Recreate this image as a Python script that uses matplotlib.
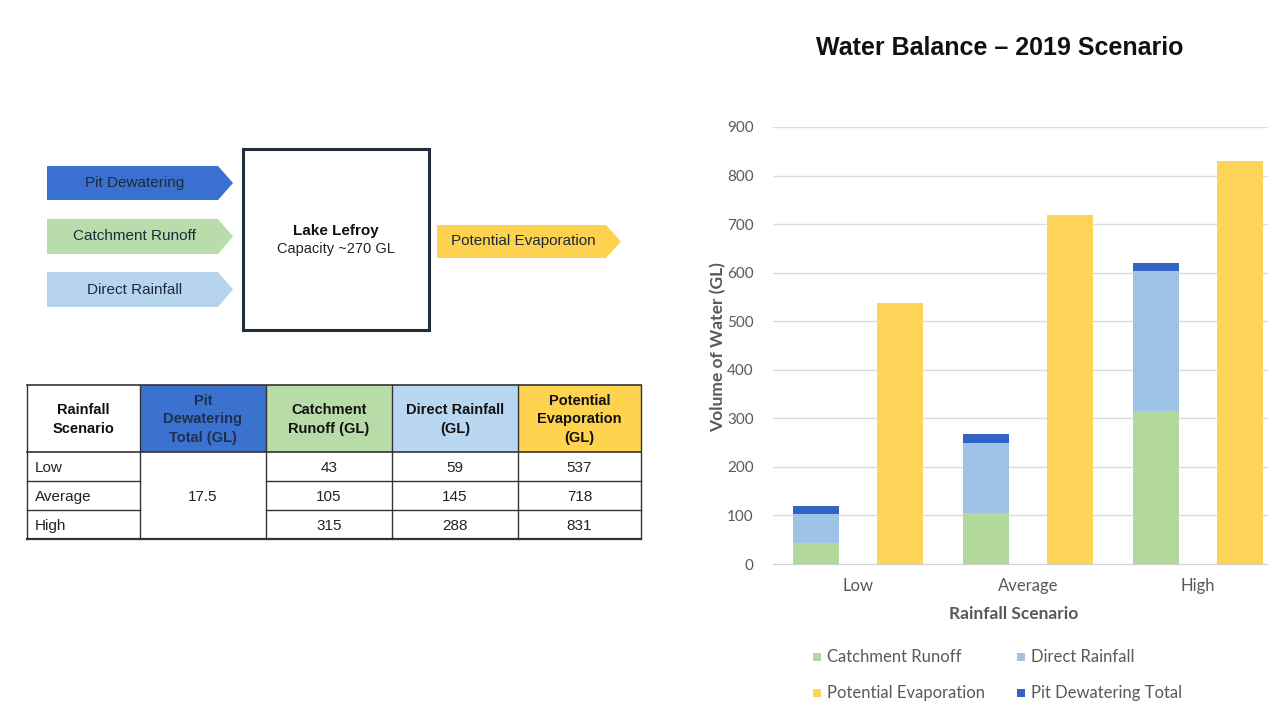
import matplotlib
matplotlib.use("Agg")
import matplotlib.pyplot as plt
from matplotlib.patches import Polygon, Rectangle
import numpy as np

# ---------------- data ----------------
scenarios = ["Low", "Average", "High"]
catchment_runoff = [43, 105, 315]
direct_rainfall = [59, 145, 288]
pit_dewatering = [17.5, 17.5, 17.5]
potential_evap = [537, 718, 831]
pit_total_label = "17.5"
series_names = ["Catchment Runoff", "Direct Rainfall", "Potential Evaporation", "Pit Dewatering Total"]
y_ticks = [0, 100, 200, 300, 400, 500, 600, 700, 800, 900]
table_headers = ["Rainfall\nScenario", "Pit\nDewatering\nTotal (GL)", "Catchment\nRunoff (GL)",
                 "Direct Rainfall\n(GL)", "Potential\nEvaporation\n(GL)"]

# ---------------- style ----------------
C_GREEN = "#b3d89c"
C_LBLUE = "#9dc3e6"
C_PIT = "#3263c7"
C_YEL = "#fdd458"
GRAY = "#595959"

W, H = 1268, 701
fig = plt.figure(figsize=(W / 100, H / 100), dpi=100)
fig.patch.set_facecolor("white")

# overlay in pixel coordinates for diagram and table
ov = fig.add_axes([0, 0, 1, 1])
ov.set_xlim(0, W)
ov.set_ylim(H, 0)
ov.axis("off")

AF = "Liberation Sans"

def arrow(x0, y0, x1, y1, tip, color, text):
    ym = (y0 + y1) / 2
    pts = [(x0, y0), (x1 - tip, y0), (x1, ym), (x1 - tip, y1), (x0, y1)]
    ov.add_patch(Polygon(pts, closed=True, facecolor=color, edgecolor="none"))
    ov.text((x0 + x1 - tip) / 2 + 2, ym, text, ha="center", va="center",
            fontsize=11, family=AF, color="#1e2a3a")

arrow(47, 166, 233, 200, 15, "#3a70cf", "Pit Dewatering")
arrow(47, 219, 233, 254, 15, "#b9dcab", "Catchment Runoff")
arrow(47, 272, 233, 307, 15, "#b7d4ef", "Direct Rainfall")
arrow(437, 225, 621, 258, 15, "#fdd24e", "Potential Evaporation")

ov.add_patch(Rectangle((243, 149), 186, 181, facecolor="white", edgecolor="#1f2d3d", linewidth=2.2))
ov.text(336, 231, "Lake Lefroy", ha="center", va="center", fontsize=11, family=AF,
        fontweight="bold", color="#111111")
ov.text(336, 249, "Capacity ~270 GL", ha="center", va="center", fontsize=10.5, family=AF,
        color="#222222")

# ---------------- table ----------------
col_x = [27, 140, 266, 392, 518, 641]
row_y = [385, 452, 481, 510, 539]
head_colors = ["white", "#3b72cf", "#b8dca8", "#bad7f1", "#fdd34f"]
head_txt = ["#111111", "#1f2f4f", "#111111", "#111111", "#111111"]
for j in range(5):
    ov.add_patch(Rectangle((col_x[j], row_y[0]), col_x[j + 1] - col_x[j], row_y[1] - row_y[0],
                           facecolor=head_colors[j], edgecolor="none"))
    ov.text((col_x[j] + col_x[j + 1]) / 2, (row_y[0] + row_y[1]) / 2 + 1, table_headers[j],
            ha="center", va="center", fontsize=10.5, family=AF, fontweight="bold",
            color=head_txt[j], linespacing=1.38)

body_cols = [catchment_runoff, direct_rainfall, potential_evap]
for i, s in enumerate(scenarios):
    yc = (row_y[i + 1] + row_y[i + 2]) / 2 + 1.5
    ov.text(col_x[0] + 8, yc, s, ha="left", va="center", fontsize=11, family=AF, color="#222222")
    for k, vals in enumerate(body_cols):
        j = k + 2
        ov.text((col_x[j] + col_x[j + 1]) / 2, yc, f"{vals[i]:g}", ha="center", va="center",
                fontsize=11, family=AF, color="#222222")
ov.text((col_x[1] + col_x[2]) / 2, (row_y[1] + row_y[4]) / 2 + 1.5, pit_total_label, ha="center",
        va="center", fontsize=11, family=AF, color="#222222")

LC = "#333333"
ov.plot([col_x[0], col_x[-1]], [row_y[0], row_y[0]], color=LC, lw=1.2)
ov.plot([col_x[0], col_x[-1]], [row_y[1], row_y[1]], color=LC, lw=1.2)
ov.plot([col_x[0], col_x[-1]], [row_y[-1], row_y[-1]], color=LC, lw=1.6)
for ry in row_y[2:4]:
    ov.plot([col_x[0], col_x[1]], [ry, ry], color=LC, lw=1.0)
    ov.plot([col_x[2], col_x[-1]], [ry, ry], color=LC, lw=1.0)
for cx in col_x:
    ov.plot([cx, cx], [row_y[0], row_y[-1]], color=LC, lw=1.0)

# ---------------- bar chart ----------------
left_px, right_px = 773, 1268
bot_px, top_px = 564, 127
ax = fig.add_axes([left_px / W, 1 - bot_px / H, (right_px - left_px) / W, (bot_px - top_px) / H])
ax.set_facecolor("none")
x = np.arange(len(scenarios))
bw = 0.27
off = 0.247
cr = np.array(catchment_runoff)
dr = np.array(direct_rainfall)
pd_ = np.array(pit_dewatering)
ax.bar(x - off, cr, bw, color=C_GREEN, zorder=3)
ax.bar(x - off, dr, bw, bottom=cr, color=C_LBLUE, zorder=3)
ax.bar(x - off, pd_, bw, bottom=cr + dr, color=C_PIT, zorder=3)
ax.bar(x + off, potential_evap, bw, color=C_YEL, zorder=3)

ax.set_xlim(-0.5, -0.5 + (right_px - left_px) / 170)
ax.set_ylim(0, 900)
ax.set_yticks(y_ticks)
ax.yaxis.grid(True, color="#dcdcdc", lw=1.0, zorder=0)
for sp in ["top", "right", "left"]:
    ax.spines[sp].set_visible(False)
ax.spines["bottom"].set_color("#d0d0d0")
ax.tick_params(axis="y", length=0, labelsize=11, labelcolor=GRAY, pad=14)
ax.tick_params(axis="x", length=0, labelsize=12, labelcolor=GRAY, pad=10)
for lab in ax.get_yticklabels():
    lab.set_family("Lato")
ax.set_xticks(x)
ax.set_xticklabels(scenarios, family="Lato")
ax.set_ylabel("Volume of Water (GL)", fontsize=12.5, fontweight="bold", color=GRAY,
              family="Lato", labelpad=10)
ax.yaxis.set_label_coords(-(left_px - 718) / (right_px - left_px), (bot_px - 347) / (bot_px - top_px))
ax.yaxis.label.set_va("center")
ax.set_xlabel("Rainfall Scenario", fontsize=12.5, fontweight="bold", color=GRAY, family="Lato")
ax.xaxis.set_label_coords((1014 - left_px) / (right_px - left_px), -(614 - bot_px) / (bot_px - top_px))
ax.xaxis.label.set_va("center")

fig.text(1000 / W, 1 - 48 / H, "Water Balance \u2013 2019 Scenario", ha="center", va="center",
         fontsize=18, fontweight="bold", family=AF, color="#111111")

# legend drawn manually
leg_colors = [C_GREEN, C_LBLUE, C_YEL, C_PIT]
leg_pos = [(817, 657), (1021, 657), (817, 693), (1021, 693)]
for name, c, (lx, ly) in zip(series_names, leg_colors, leg_pos):
    ov.add_patch(Rectangle((lx - 4, ly - 4), 8, 8, facecolor=c, edgecolor="none"))
    ov.text(lx + 10, ly, name, ha="left", va="center", fontsize=12, family="Lato", color=GRAY)

fig.savefig("out.png", dpi=100)
